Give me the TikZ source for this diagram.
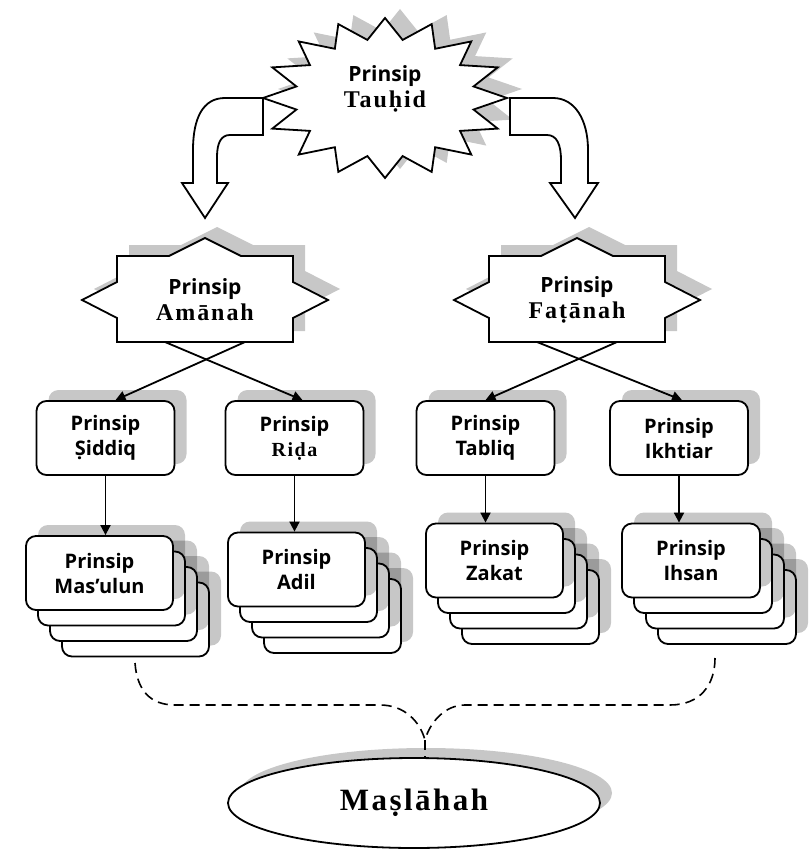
\documentclass[tikz,border=0pt]{standalone}
\usepackage{fontspec}
\setmainfont{Liberation Serif}
\setsansfont{Open Sans}
\newfontfamily\termfont[LetterSpace=8]{Liberation Serif Bold}
\usetikzlibrary{arrows.meta, shapes.geometric, shadows}

\begin{document}
\begin{tikzpicture}[x=0.5pt, y=-0.5pt, line width=0.9pt,
    ghost/.style = {fill=black!22, draw=none},
    outline/.style = {draw, fill=white, line join=miter},
    headline/.style = {align=center, font=\fontsize{10.5}{13}\selectfont},
    box/.style = {draw, fill=white, rounded corners=5pt, minimum width=69pt, minimum height=37pt,
      align=center, font=\sffamily\bfseries\fontsize{10}{12.5}\selectfont,
      drop shadow={shadow xshift=6pt, shadow yshift=5.5pt, fill=black, opacity=0.22}},
    link/.style = {-{Triangle[width=5pt, length=5pt]}},
    brace/.style = {dash pattern=on 5pt off 3pt, line width=0.8pt}]

  \useasboundingbox (0,0) rectangle (811,850);

  % top star
  \path[ghost, shift={(400,89)}] (90:122 and 80)
    \foreach \k [evaluate=\k as \r using {mod(\k,2)==0 ? 1 : 0.74}] in {1,...,31}
      { -- ({90+\k*11.25}:{122*\r} and {80*\r}) } -- cycle;
  \draw[outline, shift={(385,98)}] (90:122 and 80)
    \foreach \k [evaluate=\k as \r using {mod(\k,2)==0 ? 1 : 0.74}] in {1,...,31}
      { -- ({90+\k*11.25}:{122*\r} and {80*\r}) } -- cycle;
  \node[headline] (TAUHID) at (385,89) {\sffamily\bfseries Prinsip\\ \termfont\fontsize{12}{13}\selectfont Tauḥid};

  % curved block arrows
  \draw[outline] (263,98) -- (225,98) .. controls (203,98) and (193,118) .. (193,150) -- (193,183)
    -- (182,183) -- (205,218) -- (228,183) -- (217,183) -- (217,157)
    .. controls (217,143) and (221,135) .. (230,135) -- (263,135) -- cycle;
  \draw[outline] (510,98) -- (553,98) .. controls (575,98) and (588,120) .. (588,150) -- (588,183)
    -- (598,183) -- (575,218) -- (550,183) -- (561,183) -- (561,160)
    .. controls (561,145) and (557,135) .. (547,135) -- (510,135) -- cycle;

  % eight pointed stars
  \foreach \cx/\nm/\word in {205/AM/Amānah, 577/FA/Faṭānah} {
    \path[ghost, shift={(\cx+12,289)}] (0,-62) -- (36,-44) -- (88,-44) -- (88,-18) -- (123,0) -- (88,18)
      -- (88,42) -- (-88,42) -- (-88,18) -- (-123,0) -- (-88,-18) -- (-88,-44) -- (-36,-44) -- cycle;
    \draw[outline, shift={(\cx,300)}] (0,-62) -- (36,-44) -- (88,-44) -- (88,-18) -- (123,0) -- (88,18)
      -- (88,42) -- (-88,42) -- (-88,18) -- (-123,0) -- (-88,-18) -- (-88,-44) -- (-36,-44) -- cycle;
    \node[headline] (\nm) at (\cx,300) {\sffamily\bfseries Prinsip\\ \termfont\fontsize{12}{13}\selectfont \word};
    \coordinate (\nm_l) at (\cx-40,342);
    \coordinate (\nm_r) at (\cx+40,342);
  }

  % stacked boxes
  \foreach \i/\x/\y/\w/\word in {0/99.5/573/73.5/Mas’ulun, 1/296.5/569.5/68.5/Adil,
      2/494.5/560.5/68.5/Zakat, 3/691/560.5/69/Ihsan} {
    \foreach \j in {3,2,1}
      \node[box, minimum width=\w pt] (ST_\i_\j) at (\x+12*\j, \y+15.5*\j) {};
    \node[box, minimum width=\w pt] (ST_\i) at (\x,\y) {Prinsip\\ \word};
  }

  \foreach \i/\x/\word in {0/105.5/S^^^^0323iddiq, 1/294.5/{\termfont Riḍa}, 2/485.5/Tabliq, 3/679/Ikhtiar}
    \node[box] (PR_\i) at (\x,438) {Prinsip\\ \word};

  \foreach \i in {0,...,3}
    \draw[link] (PR_\i) -- (PR_\i |- ST_\i.north);

  \draw[link] (AM_r) -- ([xshift=5pt]PR_0.north);
  \draw[link] (AM_l) -- ([xshift=4pt]PR_1.north);
  \draw[link] (FA_r) -- (PR_2.north);
  \draw[link] (FA_l) -- ([xshift=1.5pt]PR_3.north);

  % result
  \node[ellipse, draw, fill=white, minimum width=186pt, minimum height=45pt,
    drop shadow={shadow xshift=6pt, shadow yshift=5pt, fill=black, opacity=0.22},
    font=\termfont\fontsize{15.5}{17}\selectfont] (MS) at (414,803) {Maṣlāhah};

  \coordinate (BR_L) at (135,663);
  \coordinate (BR_R) at (715,658);
  \coordinate (BR_M) at (425,740);
  \draw[brace] (BR_L) .. controls (137,690) and (150,705) .. (175,705) -- (380,705)
    .. controls (405,705) and (420,722) .. (BR_M);
  \draw[brace] (BR_R) .. controls (715,685) and (700,705) .. (670,705) -- (465,705)
    .. controls (445,705) and (430,722) .. (BR_M);
  \draw[brace] (BR_M) -- (BR_M |- MS.north);

\end{tikzpicture}
\end{document}
